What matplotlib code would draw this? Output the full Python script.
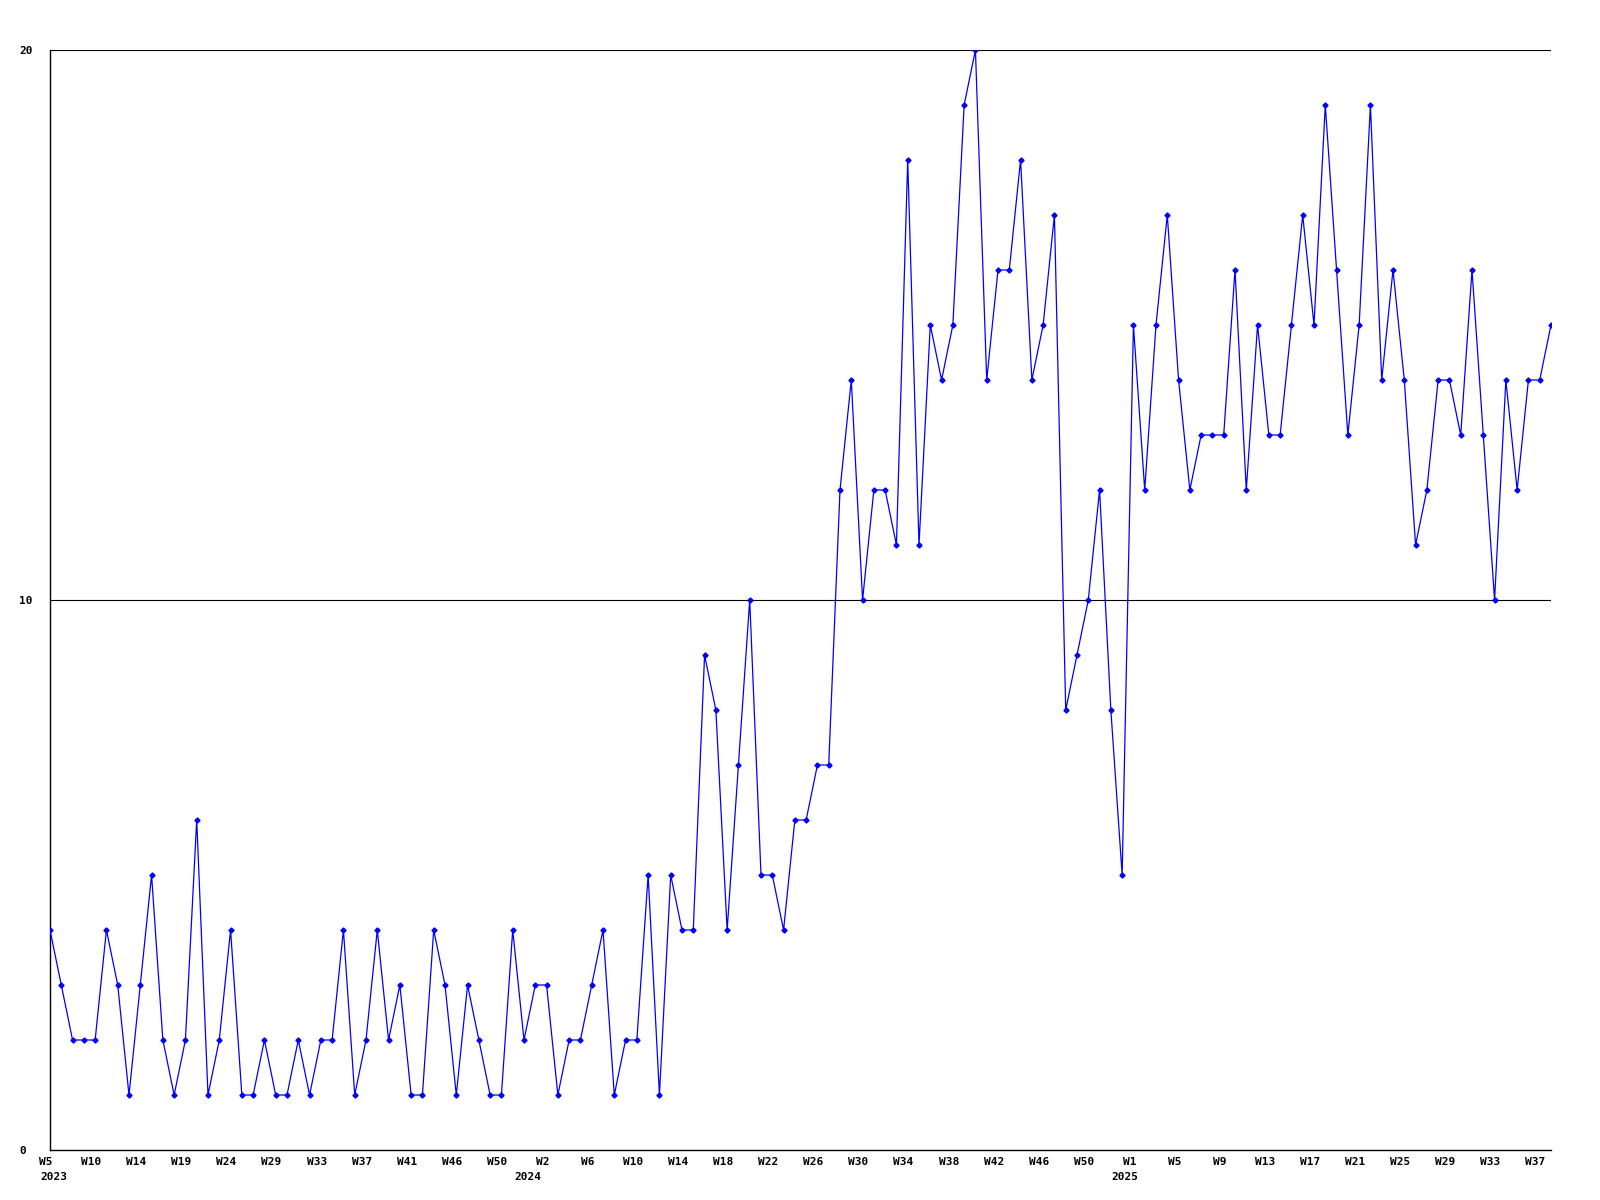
import matplotlib
matplotlib.use('Agg')
import matplotlib.pyplot as plt
from matplotlib.transforms import ScaledTranslation

# Valores semanais (2023 W5 ate 2025 W38)
valores_2023 = [4, 3, 2, 2, 2, 4, 3, 1, 3, 5, 2, 1, 2, 6, 1, 2, 4, 1, 1, 2,
                1, 1, 2, 1, 2, 2, 4, 1, 2, 4, 2, 3, 1, 1, 4, 3, 1, 3, 2, 1,
                1, 4, 2]
valores_2024 = [3, 3, 1, 2, 2, 3, 4, 1, 2, 2, 5, 1, 5, 4, 4, 9, 8, 4, 7, 10,
                5, 5, 4, 6, 6, 7, 7, 12, 14, 10, 12, 12, 11, 18, 11, 15, 14, 15, 19, 20,
                14, 16, 16, 18, 14, 15, 17, 8, 9, 10, 12, 8, 5]
valores_2025 = [15, 12, 15, 17, 14, 12, 13, 13, 13, 16, 12, 15, 13, 13, 15, 17, 15, 19, 16, 13,
                15, 19, 14, 16, 14, 11, 12, 14, 14, 13, 16, 13, 10, 14, 12, 14, 14, 15]

# Rotulos do eixo x (um a cada 4 pontos)
rotulos_semanas = ['W5', 'W10', 'W14', 'W19', 'W24', 'W29', 'W33', 'W37', 'W41', 'W46',
                   'W50', 'W2', 'W6', 'W10', 'W14', 'W18', 'W22', 'W26', 'W30', 'W34',
                   'W38', 'W42', 'W46', 'W50', 'W1', 'W5', 'W9', 'W13', 'W17', 'W21',
                   'W25', 'W29', 'W33', 'W37']
anos = ['2023', '2024', '2025']
posicao_anos = [0.3, 42.3, 95.2]

valores = valores_2023 + valores_2024 + valores_2025
x = list(range(len(valores)))

fonte = {'family': 'DejaVu Sans Mono', 'weight': 'bold', 'size': 8}

fig = plt.figure(figsize=(16, 12), dpi=100)
ax = fig.add_axes([0.03125, 0.041667, 0.938125, 0.916667])

# Linhas de grade horizontais
for nivel in [10, 20]:
    ax.axhline(nivel, color='black', linewidth=0.8, zorder=1)

ax.plot(x, valores, color='#0000ff', linewidth=0.9, marker='D', markersize=2.6, zorder=3)

ax.set_xlim(0, len(valores) - 1)
ax.set_ylim(0, 20)

ax.set_yticks([0, 10, 20])
ax.set_yticklabels(['0', '10', '20'], fontdict=fonte, ha='left')
ax.set_xticks(x[::4])
ax.set_xticklabels(rotulos_semanas, fontdict=fonte)
ax.tick_params(axis='y', length=0, pad=22)
ax.tick_params(axis='x', length=0, pad=5)

# Desloca os rotulos das semanas um pouco para a esquerda
desloc = ScaledTranslation(-3 / 72, 0, fig.dpi_scale_trans)
for rotulo in ax.get_xticklabels():
    rotulo.set_transform(rotulo.get_transform() + desloc)

# Rotulos dos anos abaixo das semanas
for ano, pos in zip(anos, posicao_anos):
    ax.text(pos, -0.0245, ano, transform=ax.get_xaxis_transform(),
            ha='center', va='center', fontdict=fonte)

ax.spines['top'].set_visible(False)
ax.spines['right'].set_visible(False)
ax.spines['left'].set_linewidth(1)
ax.spines['bottom'].set_linewidth(1)

fig.savefig('out.png', dpi=100, facecolor='white')
